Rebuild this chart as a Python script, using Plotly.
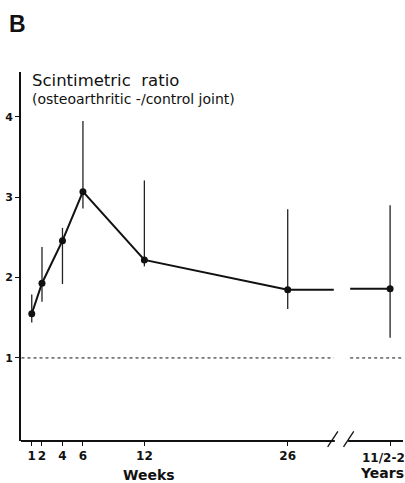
import plotly.graph_objects as go

# ---- data ----
tick_labels = ["1", "2", "4", "6", "12", "26", "11/2-2"]
x_pos = [1, 2, 4, 6, 12, 26, 36]          # 36 = position of the "years" group after the axis break
means = [1.55, 1.93, 2.46, 3.07, 2.22, 1.85, 1.86]
upper = [1.79, 2.38, 2.62, 3.95, 3.21, 2.85, 2.90]
lower = [1.44, 1.70, 1.92, 2.86, 2.14, 1.61, 1.25]
y_ticks = [1, 2, 3, 4]
ref_level = 1.0

# axis break (in x units)
break_lo, break_hi = 30.5, 32.1
axis_cut_lo, axis_cut_hi = 30.6, 31.9
x_min, x_max = -0.05, 37.26
y_min, y_max = -0.034, 4.56

err_plus = [u - m for u, m in zip(upper, means)]
err_minus = [m - l for m, l in zip(means, lower)]

ink = "#111111"
fig = go.Figure()

fig.add_trace(go.Scatter(
    x=x_pos, y=means, mode="markers",
    marker=dict(color=ink, size=7),
    error_y=dict(type="data", symmetric=False, array=err_plus, arrayminus=err_minus,
                 width=0, thickness=1.3, color="#222222"),
    showlegend=False, hoverinfo="skip"))

fig.add_trace(go.Scatter(
    x=x_pos[:6], y=means[:6], mode="lines",
    line=dict(color=ink, width=2), showlegend=False, hoverinfo="skip"))

fig.add_trace(go.Scatter(
    x=[x_pos[5], break_lo, None, break_hi, x_pos[6]],
    y=[means[5], means[5], None, means[6], means[6]],
    mode="lines", line=dict(color=ink, width=2), showlegend=False, hoverinfo="skip"))

shapes = []
for a, b in [(0, break_lo), (break_hi, x_max)]:
    shapes.append(dict(type="line", xref="x", yref="y", x0=a, x1=b, y0=ref_level, y1=ref_level,
                       line=dict(color=ink, width=1, dash="dot")))
for a, b in [(x_min, axis_cut_lo), (axis_cut_hi, x_max)]:
    shapes.append(dict(type="line", xref="x", yref="paper", x0=a, x1=b, y0=0, y1=0,
                       line=dict(color=ink, width=2)))
for c in [(axis_cut_lo + 30.1) / 2 + 0.05, (axis_cut_hi + 32.0) / 2]:
    shapes.append(dict(type="line", xref="x", yref="paper", x0=c - 0.5, x1=c + 0.5,
                       y0=-0.016, y1=0.026, line=dict(color=ink, width=1.3)))

tick_font = dict(family="DejaVu Sans", size=12, color=ink)
annotations = [
    dict(text="<b>B</b>", xref="paper", yref="paper", x=-0.036, y=1.13, xanchor="left",
         yanchor="middle", showarrow=False, font=dict(family="Liberation Sans", size=23, color=ink)),
    dict(text="Scintimetric  ratio", xref="x", yref="y", x=0.8, y=4.46, xanchor="left",
         yanchor="middle", showarrow=False, font=dict(family="DejaVu Sans", size=16.5, color=ink)),
    dict(text="(osteoarthritic -/control joint)", xref="x", yref="y", x=0.8, y=4.23, xanchor="left",
         yanchor="middle", showarrow=False, font=dict(family="DejaVu Sans", size=14, color=ink)),
    dict(text="<b>Weeks</b>", xref="x", yref="paper", x=12.5, y=-0.092, xanchor="center",
         yanchor="middle", showarrow=False, font=dict(family="DejaVu Sans", size=14, color=ink)),
    dict(text="<b>Years</b>", xref="x", yref="paper", x=35.2, y=-0.087, xanchor="center",
         yanchor="middle", showarrow=False, font=dict(family="DejaVu Sans", size=14, color=ink)),
    # last tick label sits slightly left of its tick, as in the reference
    dict(text="<b>%s</b>" % tick_labels[-1], xref="x", yref="paper", x=x_pos[-1], y=-0.045,
         xanchor="center", yanchor="middle", xshift=-7, showarrow=False, font=tick_font),
]

fig.update_layout(
    width=405, height=483, autosize=False,
    margin=dict(l=21, r=2, t=72, b=42),
    paper_bgcolor="white", plot_bgcolor="white",
    shapes=shapes, annotations=annotations, showlegend=False,
    xaxis=dict(range=[x_min, x_max], tickvals=x_pos,
               ticktext=["<b>%s</b>" % t for t in tick_labels[:-1]] + [""],
               tickangle=0, ticklabeloverflow="allow",
               showline=False, showgrid=False, zeroline=False,
               ticks="outside", ticklen=4, tickwidth=1, tickcolor=ink,
               tickfont=tick_font),
    yaxis=dict(range=[y_min, y_max], tickvals=y_ticks,
               ticktext=["<b>%d</b>" % t for t in y_ticks],
               showline=True, linewidth=2, linecolor=ink, showgrid=False, zeroline=False,
               ticks="outside", ticklen=4, tickwidth=1, tickcolor=ink,
               tickfont=dict(family="DejaVu Sans", size=11, color=ink)),
)

fig.write_html("out.html", config={"displayModeBar": False},
               post_script="document.body.style.margin='0';document.body.style.overflow='hidden';")
